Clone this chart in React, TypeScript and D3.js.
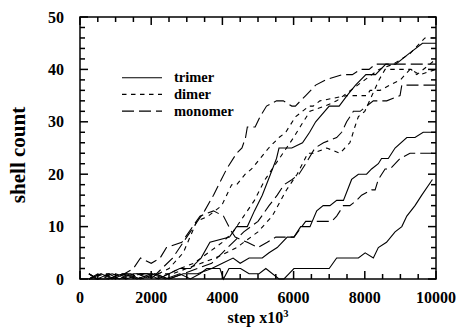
import React from "react";
import * as d3 from "d3";

// Shell counts over the run (step in units of 10^3), three runs per building block.
const trimerRunA: [number, number][] = [[250,1],[500,0],[800,1],[1100,0],[1500,1],[1900,1],[2200,0],[2500,1],[2800,2],[3100,2],[3400,4],[3650,7],[4200,8],[4400,10],[4700,10],[4900,13],[5120,16],[5350,20],[5520,23],[5590,25],[5950,25],[6250,26],[6450,28],[6620,30],[7000,33],[7280,33],[7500,35],[7740,37],[8030,39],[8300,39],[8590,41],[8870,41],[9240,43],[9620,45],[10000,45]];
const trimerRunB: [number, number][] = [[250,0],[600,1],[900,0],[1300,1],[1700,0],[2100,1],[2500,0],[2900,1],[3300,1],[3700,2],[4000,3],[4300,4],[4500,3],[4750,4],[5120,4],[5310,5],[5540,6],[5820,8],[6010,8],[6200,10],[6460,10],[6650,13],[6830,14],[7020,14],[7210,15],[7400,15],[7630,19],[7820,20],[8050,20],[8190,21],[8380,22],[8470,23],[8660,23],[8850,25],[9180,27],[9410,27],[9640,28],[10000,28]];
const trimerRunC: [number, number][] = [[250,1],[450,0],[800,0],[1200,1],[1600,0],[2000,1],[2400,0],[2800,1],[3100,0],[3370,1],[3560,2],[3930,2],[4030,0],[4185,2],[4510,2],[4750,1],[5030,1],[5220,2],[5590,0],[5730,0],[6010,2],[7000,2],[7210,4],[7820,4],[8010,5],[8240,4],[8380,6],[8610,7],[8850,9],[9040,10],[9180,12],[9410,14],[9600,16],[9900,19]];

const dimerRunA: [number, number][] = [[250,0],[600,1],[1000,1],[1400,0],[1800,1],[2200,1],[2500,2],[2900,5],[3280,11],[3600,12],[3980,14],[4260,18],[4400,18],[4640,20],[4820,21],[5060,23],[5300,25],[5590,27],[5780,28],[5870,29],[6060,31],[6250,32],[6430,33],[6550,33],[6740,34],[7490,35],[8050,35],[8150,36],[8430,36],[8700,37],[9000,38],[9270,40],[9550,39],[10000,40]];
const dimerRunB: [number, number][] = [[250,1],[500,0],[900,1],[1300,0],[1700,1],[2100,0],[2500,1],[2800,2],[3200,3],[3600,5],[4000,7],[4300,9],[4600,12],[4900,15],[5200,19],[5500,22],[5800,25],[6000,27],[6180,29],[6460,32],[6880,33],[7210,34],[7600,36],[8000,38],[8400,40],[8800,41],[9270,43],[9410,44],[9550,45],[9690,46],[10000,46]];
const dimerRunC: [number, number][] = [[250,0],[700,1],[1000,0],[1400,1],[1800,0],[2200,1],[2600,1],[3000,2],[3400,3],[3800,4],[4400,6],[5000,9],[5400,12],[5800,17],[6100,20],[6400,24],[6550,24],[6930,25],[7300,24],[7580,26],[7630,27],[7720,29],[7820,31],[8000,32],[8200,35],[8400,38],[8570,40],[9000,40],[9300,40],[9460,39],[9830,41],[10000,42]];

const monomerRunA: [number, number][] = [[250,0],[500,1],[800,0],[1200,1],[1600,1],[2000,0],[2300,2],[2600,4],[2900,7],[3200,10],[3500,13],[3750,16],[4120,21],[4400,24],[4550,25],[4650,27],[4700,29],[4920,29],[5060,31],[5240,33],[5520,34],[5710,34],[5950,33],[6050,33],[6340,35],[6620,37],[6900,38],[7370,39],[7650,39],[7880,40],[8120,40],[8300,41],[10000,41]];
const monomerRunB: [number, number][] = [[250,0],[500,0],[900,1],[1300,0],[1700,1],[2100,1],[2500,0],[2900,1],[3300,2],[3700,3],[4000,5],[4300,7],[4600,9],[5000,11],[5310,14],[5540,16],[5730,18],[5960,19],[6150,20],[6340,22],[6600,25],[6840,26],[7210,27],[7350,28],[7490,30],[7680,32],[7870,32],[8050,33],[8240,34],[8615,34],[8990,35],[9040,37],[10000,37]];
const monomerRunC: [number, number][] = [[250,0],[600,1],[1000,0],[1500,2],[1700,4],[2000,3],[2250,4],[2430,6],[2860,7],[3370,12],[3750,13],[4030,12],[4260,9],[4360,8],[4700,7],[5000,6],[5260,7],[5500,8],[6010,8],[6340,11],[6790,11],[7070,11],[7210,12],[7400,14],[7580,14],[7770,15],[7910,16],[8190,17],[8290,17],[8380,19],[8570,21],[8710,21],[8990,23],[9270,24],[10000,24]];

const legendLabels = ["trimer", "dimer", "monomer"];
const xTickValues = [0, 2000, 4000, 6000, 8000, 10000];
const yTickValues = [0, 10, 20, 30, 40, 50];

const W = 459;
const H = 329;
const left = 80, right = 436, top = 17, bottom = 279;
const FONT = "'Liberation Serif', 'DejaVu Serif', serif";

const DASH = { solid: "", dimer: "4.5,4.5", monomer: "12,5" };

export default function App() {
  const x = d3.scaleLinear().domain([0, 10000]).range([left, right]);
  const y = d3.scaleLinear().domain([0, 50]).range([bottom, top]);
  const line = d3.line<[number, number]>().x((d) => x(d[0])).y((d) => y(d[1]));

  const series = [
    { data: trimerRunA, dash: DASH.solid },
    { data: trimerRunB, dash: DASH.solid },
    { data: trimerRunC, dash: DASH.solid },
    { data: dimerRunA, dash: DASH.dimer },
    { data: dimerRunB, dash: DASH.dimer },
    { data: dimerRunC, dash: DASH.dimer },
    { data: monomerRunA, dash: DASH.monomer },
    { data: monomerRunB, dash: DASH.monomer },
    { data: monomerRunC, dash: DASH.monomer },
  ];

  const xMinor = d3.range(0, 10001, 500);
  const yMinor = d3.range(0, 51, 2);
  const major = 8, minor = 5;

  const legendDash = [DASH.solid, DASH.dimer, DASH.monomer];

  return (
    <svg width={W} height={H} style={{ position: "absolute", left: 0, top: 0, background: "#fff" }}>
      <rect x={0} y={0} width={W} height={H} fill="#fff" />
      {/* data */}
      <g fill="none" stroke="#000" strokeWidth={1.1}>
        {series.map((s, i) => (
          <path key={i} d={line(s.data) || ""} strokeDasharray={s.dash || undefined} />
        ))}
      </g>
      {/* frame and inward ticks */}
      <g stroke="#000" strokeWidth={1.5} fill="none">
        <rect x={left} y={top} width={right - left} height={bottom - top} />
        {xMinor.map((v) => {
          const len = v % 2000 === 0 ? major : minor;
          return (
            <g key={"x" + v}>
              <line x1={x(v)} x2={x(v)} y1={bottom} y2={bottom - len} />
              <line x1={x(v)} x2={x(v)} y1={top} y2={top + len} />
            </g>
          );
        })}
        {yMinor.map((v) => {
          const len = v % 10 === 0 ? major : minor;
          return (
            <g key={"y" + v}>
              <line x1={left} x2={left + len} y1={y(v)} y2={y(v)} />
              <line x1={right} x2={right - len} y1={y(v)} y2={y(v)} />
            </g>
          );
        })}
      </g>
      {/* tick labels */}
      <g fontFamily={FONT} fontWeight="bold" fontSize={16} fill="#000">
        {xTickValues.map((v) => (
          <text key={"xl" + v} x={x(v)} y={bottom + 24} textAnchor="middle">{v}</text>
        ))}
        {yTickValues.map((v) => (
          <text key={"yl" + v} x={left - 16} y={y(v) + 5.5} textAnchor="end">{v}</text>
        ))}
      </g>
      {/* axis titles */}
      <text x={(left + right) / 2} y={323} textAnchor="middle" fontFamily={FONT} fontWeight="bold" fontSize={16}>
        step x10<tspan fontSize={10.5} dy={-6.5}>3</tspan>
      </text>
      <text transform={`translate(25,155) rotate(-90)`} textAnchor="middle" fontFamily={FONT} fontWeight="bold" fontSize={21}>
        shell count
      </text>
      {/* legend */}
      <g fontFamily={FONT} fontWeight="bold" fontSize={14.5}>
        {legendLabels.map((lab, i) => {
          const ly = 77.7 + i * 16.7;
          return (
            <g key={lab}>
              <line x1={122} x2={162} y1={ly} y2={ly} stroke="#000" strokeWidth={1.1} strokeDasharray={legendDash[i] || undefined} />
              <text x={174} y={ly + 4.5}>{lab}</text>
            </g>
          );
        })}
      </g>
    </svg>
  );
}
